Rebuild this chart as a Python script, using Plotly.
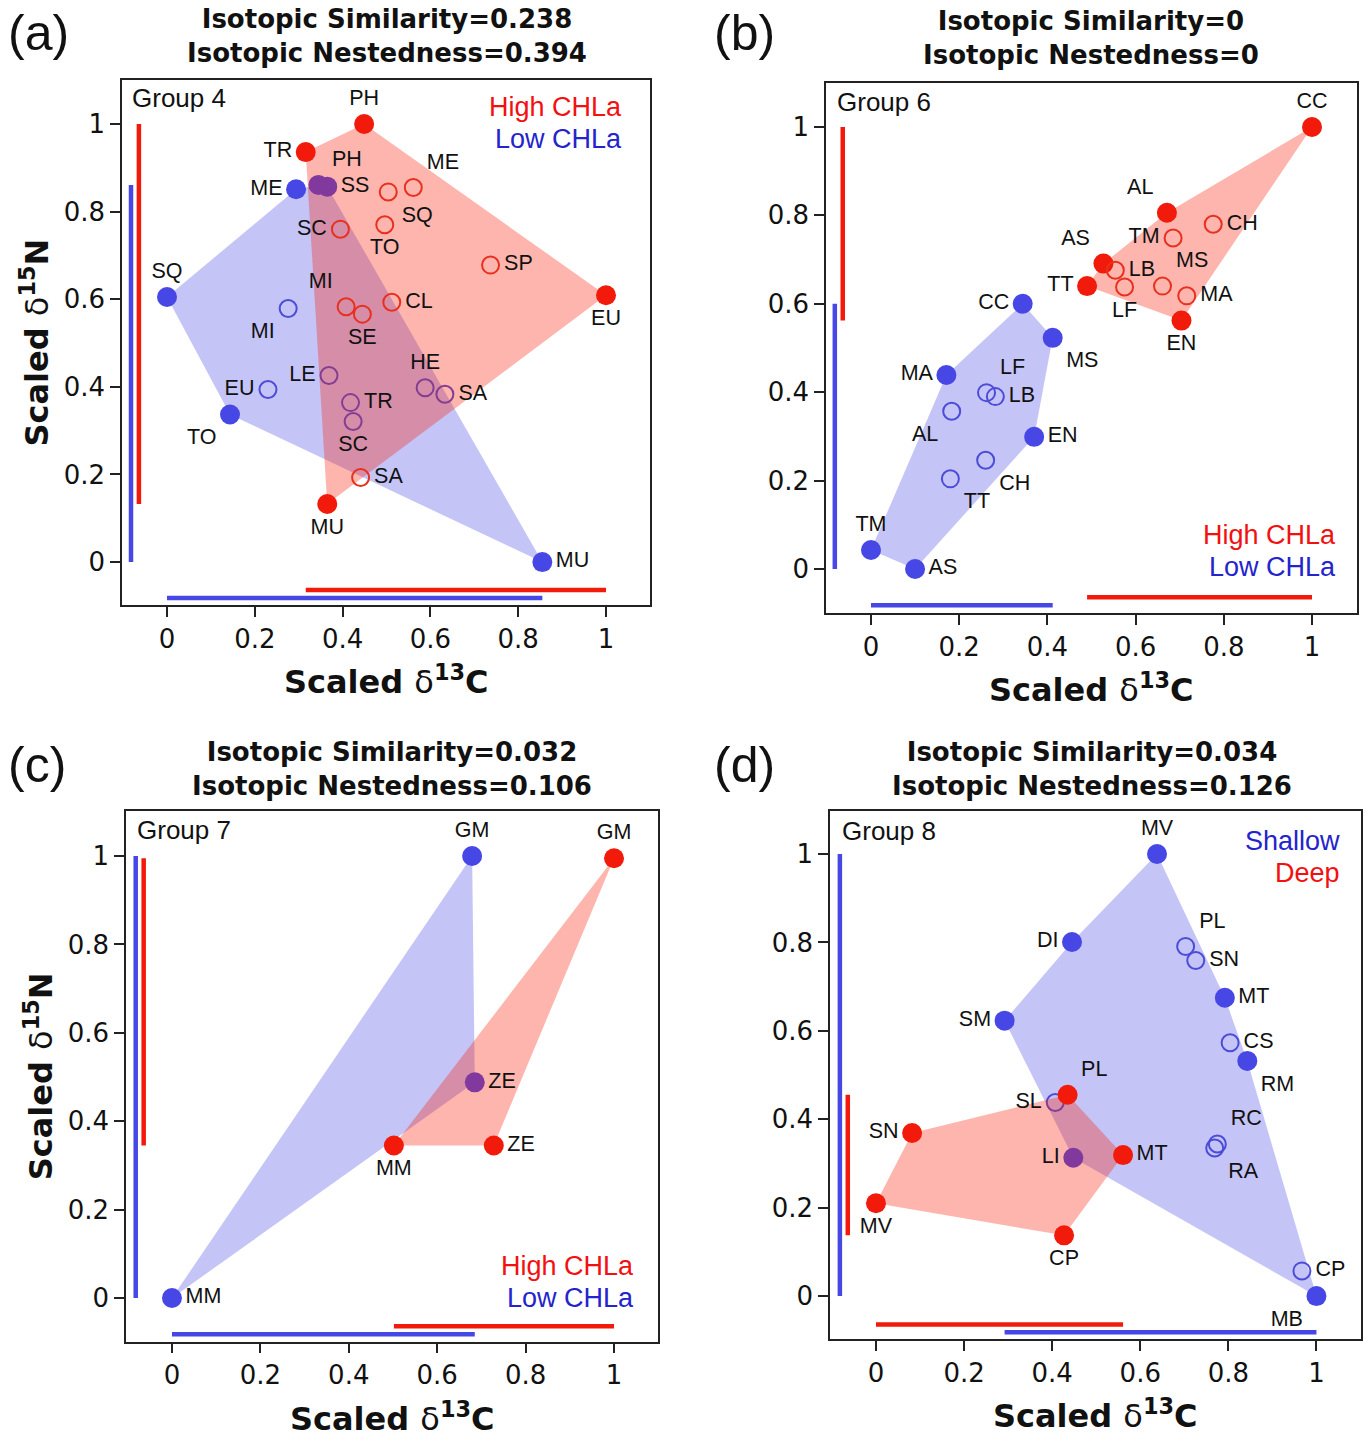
import plotly.graph_objects as go

W, H = 1368, 1439

# ---------------- data (scaled isotope values) ----------------
tick_vals = [0, 0.2, 0.4, 0.6, 0.8, 1]
tick_text = ["0", "0.2", "0.4", "0.6", "0.8", "1"]

# Panel (a) Group 4
a_hi_f_lab = ["PH", "TR", "EU", "MU"]
a_hi_f_x = [0.449, 0.316, 1.0, 0.365]
a_hi_f_y = [1.0, 0.936, 0.609, 0.1325]
a_hi_o_lab = ["ME", "SQ", "TO", "SC", "SP", "MI", "SE", "CL", "SA"]
a_hi_o_x = [0.561, 0.504, 0.496, 0.395, 0.737, 0.408, 0.445, 0.512, 0.441]
a_hi_o_y = [0.855, 0.845, 0.770, 0.760, 0.678, 0.583, 0.566, 0.593, 0.193]
a_lo_f_lab = ["ME", "PH", "SS", "SQ", "TO", "MU"]
a_lo_f_x = [0.294, 0.345, 0.365, 0.0, 0.1435, 0.855]
a_lo_f_y = [0.851, 0.861, 0.857, 0.605, 0.337, 0.0]
a_lo_o_lab = ["MI", "EU", "LE", "TR", "SC", "HE", "SA"]
a_lo_o_x = [0.276, 0.230, 0.369, 0.418, 0.424, 0.588, 0.633]
a_lo_o_y = [0.579, 0.394, 0.426, 0.364, 0.321, 0.398, 0.383]

# Panel (b) Group 6
b_hi_f_lab = ["CC", "AL", "AS", "TT", "EN"]
b_hi_f_x = [1.0, 0.671, 0.527, 0.490, 0.704]
b_hi_f_y = [1.0, 0.806, 0.691, 0.640, 0.562]
b_hi_o_lab = ["CH", "TM", "LB", "LF", "MS", "MA"]
b_hi_o_x = [0.776, 0.685, 0.554, 0.575, 0.661, 0.716]
b_hi_o_y = [0.780, 0.749, 0.676, 0.638, 0.640, 0.618]
b_lo_f_lab = ["CC", "MS", "MA", "EN", "TM", "AS"]
b_lo_f_x = [0.344, 0.412, 0.171, 0.370, 0.0, 0.100]
b_lo_f_y = [0.600, 0.523, 0.439, 0.299, 0.043, 0.0]
b_lo_o_lab = ["LF", "LB", "AL", "CH", "TT"]
b_lo_o_x = [0.262, 0.282, 0.183, 0.260, 0.180]
b_lo_o_y = [0.399, 0.390, 0.357, 0.246, 0.204]

# Panel (c) Group 7
c_hi_f_lab = ["GM", "MM", "ZE"]
c_hi_f_x = [1.0, 0.502, 0.728]
c_hi_f_y = [0.995, 0.345, 0.345]
c_lo_f_lab = ["GM", "MM", "ZE"]
c_lo_f_x = [0.679, 0.0, 0.685]
c_lo_f_y = [1.0, 0.0, 0.488]

# Panel (d) Group 8  (blue = Shallow, red = Deep)
d_sh_f_lab = ["MV", "DI", "SM", "MT", "RM", "MB", "LI"]
d_sh_f_x = [0.638, 0.445, 0.292, 0.792, 0.843, 1.0, 0.448]
d_sh_f_y = [1.0, 0.801, 0.623, 0.675, 0.532, 0.0, 0.313]
d_sh_o_lab = ["PL", "SN", "CS", "RC", "RA", "SL", "CP"]
d_sh_o_x = [0.703, 0.726, 0.804, 0.775, 0.769, 0.407, 0.967]
d_sh_o_y = [0.791, 0.759, 0.573, 0.344, 0.335, 0.438, 0.057]
d_dp_f_lab = ["PL", "SN", "MV", "CP", "MT"]
d_dp_f_x = [0.435, 0.082, 0.0, 0.427, 0.561]
d_dp_f_y = [0.4555, 0.369, 0.210, 0.1375, 0.319]

# ---------------- label placement (style) ----------------
a_hi_f_pos = ["top center", "middle left", "bottom center", "bottom center"]
a_hi_o_pos = ["top right", "bottom right", "bottom center", "middle left", "middle right",
              "top left", "bottom center", "middle right", "middle right"]
a_lo_f_pos = ["middle left", "top right", "middle right", "top center", "bottom left", "middle right"]
a_lo_o_pos = ["bottom left", "middle left", "middle left", "middle right", "bottom center",
              "top center", "middle right"]
b_hi_f_pos = ["top center", "top left", "top left", "middle left", "bottom center"]
b_hi_o_pos = ["middle right", "middle left", "middle right", "bottom center", "top right", "middle right"]
b_lo_f_pos = ["middle left", "bottom right", "middle left", "middle right", "top center", "middle right"]
b_lo_o_pos = ["top right", "middle right", "bottom left", "bottom right", "bottom right"]
c_hi_f_pos = ["top center", "bottom center", "middle right"]
c_lo_f_pos = ["top center", "middle right", "middle right"]
d_sh_f_pos = ["top center", "middle left", "middle left", "middle right", "bottom right",
              "bottom left", "middle left"]
d_sh_o_pos = ["top right", "middle right", "middle right", "top right", "bottom right",
              "middle left", "middle right"]
d_dp_f_pos = ["top right", "middle left", "bottom center", "bottom center", "middle right"]

RED = "#f21a0a"
BLUE = "#4747e6"
RED_OPEN = "#e8301e"
BLUE_OPEN = "#4c4cd6"
RED_FILL = "rgba(250,30,10,0.33)"
BLUE_FILL = "rgba(60,60,230,0.30)"
RED_TXT = "#f21010"
BLUE_TXT = "#2424cc"


def px(x):
    return x / W


def py(y):
    return 1 - y / H


def hull(xs, ys):
    pts = sorted(set(zip(xs, ys)))
    if len(pts) < 3:
        return [p[0] for p in pts], [p[1] for p in pts]

    def cross(o, a, b):
        return (a[0] - o[0]) * (b[1] - o[1]) - (a[1] - o[1]) * (b[0] - o[0])
    lower, upper = [], []
    for p in pts:
        while len(lower) >= 2 and cross(lower[-2], lower[-1], p) <= 0:
            lower.pop()
        lower.append(p)
    for p in reversed(pts):
        while len(upper) >= 2 and cross(upper[-2], upper[-1], p) <= 0:
            upper.pop()
        upper.append(p)
    h = lower[:-1] + upper[:-1]
    h.append(h[0])
    return [p[0] for p in h], [p[1] for p in h]


fig = go.Figure()

# panel geometry in pixels: (left, right, top, bottom), x range, y range
panels = [
    dict(box=(122, 650, 80, 605), xr=[-0.1025, 1.1002], yr=[-0.098, 1.1005]),
    dict(box=(826, 1357, 83, 613), xr=[-0.102, 1.102], yr=[-0.0995, 1.0995]),
    dict(box=(126, 658, 811, 1341.5), xr=[-0.104, 1.0995], yr=[-0.0984, 1.1018]),
    dict(box=(830, 1360.5, 811, 1339), xr=[-0.1044, 1.1], yr=[-0.097, 1.0973]),
]

axis_common = dict(
    tickvals=tick_vals, ticktext=tick_text, ticks="outside", ticklen=10, tickwidth=1.5,
    tickcolor="#222", showline=True, linecolor="#222", linewidth=1.5, mirror=True,
    showgrid=False, zeroline=False, automargin=False,
    tickfont=dict(family="DejaVu Sans", size=26, color="#111"),
)

for i, p in enumerate(panels):
    l, r, t, b = p["box"]
    n = "" if i == 0 else str(i + 1)
    fig.update_layout(**{
        "xaxis" + n: dict(domain=[px(l), px(r)], range=p["xr"], anchor="y" + n, **axis_common),
        "yaxis" + n: dict(domain=[py(b), py(t)], range=p["yr"], anchor="x" + n, **axis_common),
    })


def add_group(idx, color, fill, open_color, fx, fy, ox=None, oy=None):
    n = "" if idx == 0 else str(idx + 1)
    xa, ya = "x" + n, "y" + n
    hx, hy = hull(fx, fy)
    fig.add_trace(go.Scatter(x=hx, y=hy, mode="lines", fill="toself", fillcolor=fill,
                             line=dict(width=0), xaxis=xa, yaxis=ya, hoverinfo="skip"))
    fig.add_trace(go.Scatter(x=fx, y=fy, mode="markers", xaxis=xa, yaxis=ya,
                             marker=dict(size=20, color=color, line=dict(width=0)),
                             hoverinfo="skip"))
    if ox:
        fig.add_trace(go.Scatter(x=ox, y=oy, mode="markers", xaxis=xa, yaxis=ya,
                                 marker=dict(size=17, color="rgba(0,0,0,0)",
                                             line=dict(width=2, color=open_color)),
                                 hoverinfo="skip"))


def add_labels(idx, xs, ys, labs, pos):
    n = "" if idx == 0 else str(idx + 1)
    fig.add_trace(go.Scatter(x=xs, y=ys, mode="markers+text", text=labs, textposition=pos,
                             marker=dict(size=20, color="rgba(0,0,0,0)"),
                             textfont=dict(family="Liberation Sans, Arial", size=21.5, color="#111"),
                             xaxis="x" + n, yaxis="y" + n, cliponaxis=False, hoverinfo="skip"))


def add_bars(idx, color, xs, ys, off):
    n = "" if idx == 0 else str(idx + 1)
    fig.add_trace(go.Scatter(x=[off, off], y=[min(ys), max(ys)], mode="lines",
                             line=dict(color=color, width=4.5), xaxis="x" + n, yaxis="y" + n,
                             hoverinfo="skip", cliponaxis=False))
    fig.add_trace(go.Scatter(x=[min(xs), max(xs)], y=[off, off], mode="lines",
                             line=dict(color=color, width=4.5), xaxis="x" + n, yaxis="y" + n,
                             hoverinfo="skip", cliponaxis=False))


INNER, OUTER = -0.064, -0.082

# ---- panel a ----
add_group(0, BLUE, BLUE_FILL, BLUE_OPEN, a_lo_f_x, a_lo_f_y, a_lo_o_x, a_lo_o_y)
add_group(0, RED, RED_FILL, RED_OPEN, a_hi_f_x, a_hi_f_y, a_hi_o_x, a_hi_o_y)
add_labels(0, a_lo_f_x, a_lo_f_y, a_lo_f_lab, a_lo_f_pos)
add_labels(0, a_lo_o_x, a_lo_o_y, a_lo_o_lab, a_lo_o_pos)
add_labels(0, a_hi_f_x, a_hi_f_y, a_hi_f_lab, a_hi_f_pos)
add_labels(0, a_hi_o_x, a_hi_o_y, a_hi_o_lab, a_hi_o_pos)
add_bars(0, BLUE, a_lo_f_x + a_lo_o_x, a_lo_f_y + a_lo_o_y, OUTER)
add_bars(0, RED, a_hi_f_x + a_hi_o_x, a_hi_f_y + a_hi_o_y, INNER)

# ---- panel b ----
add_group(1, BLUE, BLUE_FILL, BLUE_OPEN, b_lo_f_x, b_lo_f_y, b_lo_o_x, b_lo_o_y)
add_group(1, RED, RED_FILL, RED_OPEN, b_hi_f_x, b_hi_f_y, b_hi_o_x, b_hi_o_y)
add_labels(1, b_lo_f_x, b_lo_f_y, b_lo_f_lab, b_lo_f_pos)
add_labels(1, b_lo_o_x, b_lo_o_y, b_lo_o_lab, b_lo_o_pos)
add_labels(1, b_hi_f_x, b_hi_f_y, b_hi_f_lab, b_hi_f_pos)
add_labels(1, b_hi_o_x, b_hi_o_y, b_hi_o_lab, b_hi_o_pos)
add_bars(1, BLUE, b_lo_f_x + b_lo_o_x, b_lo_f_y + b_lo_o_y, OUTER)
add_bars(1, RED, b_hi_f_x + b_hi_o_x, b_hi_f_y + b_hi_o_y, INNER)

# ---- panel c ----
add_group(2, BLUE, BLUE_FILL, BLUE_OPEN, c_lo_f_x, c_lo_f_y)
add_group(2, RED, RED_FILL, RED_OPEN, c_hi_f_x, c_hi_f_y)
add_labels(2, c_lo_f_x, c_lo_f_y, c_lo_f_lab, c_lo_f_pos)
add_labels(2, c_hi_f_x, c_hi_f_y, c_hi_f_lab, c_hi_f_pos)
add_bars(2, BLUE, c_lo_f_x, c_lo_f_y, OUTER)
add_bars(2, RED, c_hi_f_x, c_hi_f_y, INNER)

# ---- panel d ----
add_group(3, BLUE, BLUE_FILL, BLUE_OPEN, d_sh_f_x, d_sh_f_y, d_sh_o_x, d_sh_o_y)
add_group(3, RED, RED_FILL, RED_OPEN, d_dp_f_x, d_dp_f_y)
add_labels(3, d_sh_f_x, d_sh_f_y, d_sh_f_lab, d_sh_f_pos)
add_labels(3, d_sh_o_x, d_sh_o_y, d_sh_o_lab, d_sh_o_pos)
add_labels(3, d_dp_f_x, d_dp_f_y, d_dp_f_lab, d_dp_f_pos)
add_bars(3, BLUE, d_sh_f_x + d_sh_o_x, d_sh_f_y + d_sh_o_y, OUTER)
add_bars(3, RED, d_dp_f_x, d_dp_f_y, INNER)

# ---------------- annotations ----------------
ann = []
TITLE_FONT = dict(family="DejaVu Sans", size=26, color="#111")
titles = [
    ("Isotopic Similarity=0.238", "Isotopic Nestedness=0.394", 387, 36.5),
    ("Isotopic Similarity=0", "Isotopic Nestedness=0", 1091, 38),
    ("Isotopic Similarity=0.032", "Isotopic Nestedness=0.106", 392, 768.5),
    ("Isotopic Similarity=0.034", "Isotopic Nestedness=0.126", 1092, 768.5),
]
for t1, t2, cx, cy in titles:
    ann.append(dict(text="<b>%s<br>%s</b>" % (t1, t2), x=px(cx), y=py(cy), xref="paper", yref="paper",
                    xanchor="center", yanchor="middle", showarrow=False, font=TITLE_FONT))

for lab, lx, ly in [("(a)", 6, 33), ("(b)", 712, 33), ("(c)", 6, 765), ("(d)", 712, 765)]:
    ann.append(dict(text=lab, x=px(lx), y=py(ly), xref="paper", yref="paper", xanchor="left",
                    yanchor="middle", showarrow=False,
                    font=dict(family="Liberation Sans, Arial", size=50, color="#111")))

for lab, lx, ly in [("Group 4", 130, 98), ("Group 6", 835, 102), ("Group 7", 135, 830), ("Group 8", 840, 831)]:
    ann.append(dict(text=lab, x=px(lx), y=py(ly), xref="paper", yref="paper", xanchor="left",
                    yanchor="middle", showarrow=False,
                    font=dict(family="Liberation Sans, Arial", size=26, color="#111")))

legend_items = [
    ("High CHLa", RED_TXT, 624, 107), ("Low CHLa", BLUE_TXT, 624, 139),
    ("High CHLa", RED_TXT, 1338, 535), ("Low CHLa", BLUE_TXT, 1338, 567),
    ("High CHLa", RED_TXT, 636, 1266), ("Low CHLa", BLUE_TXT, 636, 1298),
    ("Shallow", BLUE_TXT, 1342, 841), ("Deep", RED_TXT, 1342, 873),
]
for lab, col, rx, cy in legend_items:
    ann.append(dict(text=lab, x=px(rx), y=py(cy), xref="paper", yref="paper", xanchor="right",
                    yanchor="middle", showarrow=False,
                    font=dict(family="Liberation Sans, Arial", size=27, color=col)))

XT = "<b>Scaled </b>δ<b><sup>13</sup>C</b>"
YT = "<b>Scaled </b>δ<b><sup>15</sup>N</b>"
AX_FONT = dict(family="DejaVu Sans", size=32, color="#111")
for i, p in enumerate(panels):
    l, r, t, b = p["box"]
    ann.append(dict(text=XT, x=px((l + r) / 2), y=py(b + 75), xref="paper", yref="paper",
                    xanchor="center", yanchor="middle", showarrow=False, font=AX_FONT))
    if i in (0, 2):
        ann.append(dict(text=YT, x=px(l - 87), y=py((t + b) / 2), xref="paper", yref="paper",
                        xanchor="center", yanchor="middle", textangle=-90, showarrow=False,
                        font=AX_FONT))

fig.update_layout(width=W, height=H, margin=dict(l=0, r=0, t=0, b=0), showlegend=False,
                  plot_bgcolor="white", paper_bgcolor="white", annotations=ann)

fig.write_html("out.html", config={"displayModeBar": False},
               post_script="document.body.style.margin='0px';")
